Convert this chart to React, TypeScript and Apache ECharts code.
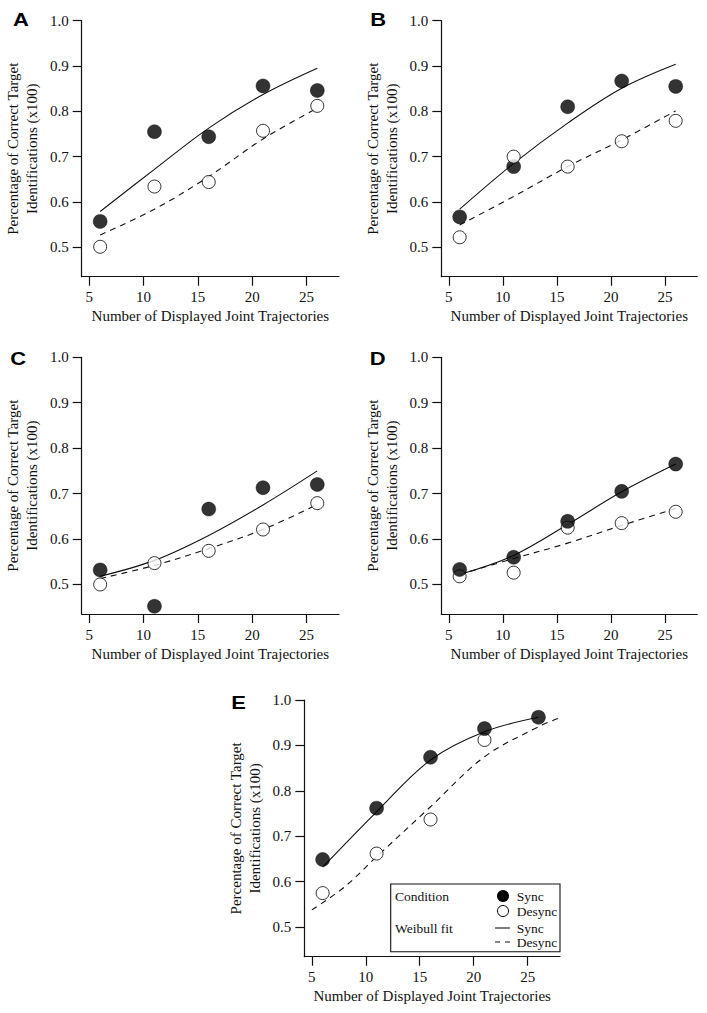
import React, { useEffect, useRef } from "react";
import * as echarts from "echarts";

// ---- data ----
const trajectories = [6, 11, 16, 21, 26];
const xTickValues = [5, 10, 15, 20, 25];
const yTickValues = [0.5, 0.6, 0.7, 0.8, 0.9, 1.0];

const syncA = [0.557, 0.755, 0.744, 0.856, 0.846];
const desyncA = [0.501, 0.634, 0.644, 0.757, 0.812];
const syncFitA = [0.579, 0.672, 0.763, 0.837, 0.895];
const desyncFitA = [0.527, 0.584, 0.656, 0.739, 0.807];

const syncB = [0.567, 0.678, 0.810, 0.867, 0.855];
const desyncB = [0.522, 0.700, 0.678, 0.734, 0.779];
const syncFitB = [0.584, 0.685, 0.774, 0.851, 0.904];
const desyncFitB = [0.549, 0.612, 0.678, 0.737, 0.801];

const syncC = [0.532, 0.452, 0.666, 0.713, 0.720];
const desyncC = [0.500, 0.547, 0.574, 0.621, 0.679];
const syncFitC = [0.518, 0.553, 0.608, 0.675, 0.750];
const desyncFitC = [0.513, 0.542, 0.579, 0.621, 0.676];

const syncD = [0.533, 0.560, 0.639, 0.705, 0.765];
const desyncD = [0.518, 0.526, 0.625, 0.635, 0.660];
const syncFitD = [0.522, 0.564, 0.632, 0.704, 0.765];
const desyncFitD = [0.522, 0.557, 0.591, 0.630, 0.667];

const syncE = [0.649, 0.762, 0.874, 0.937, 0.962];
const desyncE = [0.575, 0.662, 0.737, 0.912, null];
const syncFitE = [0.632, 0.754, 0.868, 0.930, 0.962];
const desyncFitXE = [5, 8, 11, 16, 21, 26, 28];
const desyncFitE = [0.538, 0.588, 0.655, 0.765, 0.875, 0.941, 0.961];

const panelLetters = ["A", "B", "C", "D", "E"];
const xTitle = "Number of Displayed Joint Trajectories";
const yTitle = "Percentage of Correct Target\nIdentifications (x100)";

const SERIF = "'Liberation Serif', 'Times New Roman', serif";
const SANS = "'Liberation Sans', Arial, Helvetica, sans-serif";
const INK = "#111";

type PanelDef = {
  sync: (number | null)[];
  desync: (number | null)[];
  syncFit: number[];
  desyncFit: number[];
  desyncFitX: number[];
  openOnTop: boolean;
};

const panelsData: PanelDef[] = [
  { sync: syncA, desync: desyncA, syncFit: syncFitA, desyncFit: desyncFitA, desyncFitX: trajectories, openOnTop: true },
  { sync: syncB, desync: desyncB, syncFit: syncFitB, desyncFit: desyncFitB, desyncFitX: trajectories, openOnTop: true },
  { sync: syncC, desync: desyncC, syncFit: syncFitC, desyncFit: desyncFitC, desyncFitX: trajectories, openOnTop: false },
  { sync: syncD, desync: desyncD, syncFit: syncFitD, desyncFit: desyncFitD, desyncFitX: trajectories, openOnTop: false },
  { sync: syncE, desync: desyncE, syncFit: syncFitE, desyncFit: desyncFitE, desyncFitX: desyncFitXE, openOnTop: false },
];

// layout (pixels)
const grids = [
  { left: 81.7, top: 20.7, width: 257.3, height: 256 },
  { left: 441.3, top: 20.7, width: 256, height: 256 },
  { left: 81.7, top: 357.3, width: 257.3, height: 256.7 },
  { left: 441.3, top: 357.3, width: 256, height: 256.7 },
  { left: 304.3, top: 700, width: 255.7, height: 256.7 },
];
const letterPos = [
  [21, 19.8],
  [378.2, 19.8],
  [18.2, 358.3],
  [377.7, 358.3],
  [238.5, 703],
];

function pairs(xs: number[], ys: (number | null)[]) {
  return xs.map((x, i) => [x, ys[i]]).filter((p) => p[1] !== null);
}

function buildOption() {
  const xAxis: any[] = [];
  const yAxis: any[] = [];
  const series: any[] = [];
  panelsData.forEach((p, i) => {
    xAxis.push({
      gridIndex: i,
      type: "value",
      min: 4.3,
      max: 28,
      axisLine: { show: true, onZero: false, lineStyle: { color: INK, width: 1.2 } },
      axisTick: { show: true, length: 9, customValues: xTickValues, lineStyle: { color: INK, width: 1.2 } },
      axisLabel: { customValues: xTickValues, fontFamily: SERIF, fontSize: 15, color: INK, margin: 13 },
      splitLine: { show: false },
      name: xTitle,
      nameLocation: "middle",
      nameGap: 32,
      nameTextStyle: { fontFamily: SERIF, fontSize: 15, color: INK, lineHeight: 15 },
    });
    yAxis.push({
      gridIndex: i,
      type: "value",
      min: 0.435,
      max: 1.0,
      axisLine: { show: true, onZero: false, lineStyle: { color: INK, width: 1.2 } },
      axisTick: { show: true, length: 9, customValues: yTickValues, lineStyle: { color: INK, width: 1.2 } },
      axisLabel: {
        customValues: yTickValues,
        fontFamily: SERIF,
        fontSize: 15,
        color: INK,
        margin: 13,
        formatter: (v: number) => v.toFixed(1),
      },
      splitLine: { show: false },
      name: yTitle,
      nameLocation: "middle",
      nameGap: 40,
      nameRotate: 90,
      nameTextStyle: { fontFamily: SERIF, fontSize: 15, color: INK, lineHeight: 19, align: "center" },
    });
    series.push({
      type: "line",
      xAxisIndex: i,
      yAxisIndex: i,
      data: pairs(trajectories, p.syncFit),
      smooth: 0.35,
      symbol: "none",
      lineStyle: { color: INK, width: 1.1, type: "solid" },
      z: 1,
    });
    series.push({
      type: "line",
      xAxisIndex: i,
      yAxisIndex: i,
      data: pairs(p.desyncFitX, p.desyncFit),
      smooth: 0.35,
      symbol: "none",
      lineStyle: { color: INK, width: 1.1, type: [6, 5] },
      z: 1,
    });
    series.push({
      type: "scatter",
      xAxisIndex: i,
      yAxisIndex: i,
      data: pairs(trajectories, p.sync),
      symbol: "circle",
      symbolSize: 14,
      itemStyle: { color: "#000", borderColor: "#000", borderWidth: 0.5 },
      z: p.openOnTop ? 3 : 5,
    });
    series.push({
      type: "scatter",
      xAxisIndex: i,
      yAxisIndex: i,
      data: pairs(trajectories, p.desync),
      symbol: "circle",
      symbolSize: 13,
      itemStyle: { color: "#fff", borderColor: "#000", borderWidth: 1 },
      z: p.openOnTop ? 5 : 3,
    });
  });

  const graphic: any[] = panelLetters.map((t, i) => ({
    type: "text",
    x: letterPos[i][0],
    y: letterPos[i][1],
    scaleX: 1.22,
    style: {
      text: t,
      font: `bold 18px ${SANS}`,
      fill: "#000",
      align: "center",
      verticalAlign: "middle",
    },
    silent: true,
  }));

  // legend box in panel E
  const legendText = (text: string, x: number, y: number) => ({
    type: "text",
    x,
    y,
    style: { text, font: `13.5px ${SERIF}`, fill: INK, verticalAlign: "middle", align: "left" },
    silent: true,
    z: 20,
  });
  graphic.push({
    type: "group",
    z: 20,
    children: [
      {
        type: "rect",
        shape: { x: 390.7, y: 884, width: 169.3, height: 67.7 },
        style: { fill: "#fff", stroke: INK, lineWidth: 1.1 },
        z: 19,
      },
      legendText("Condition", 395, 896),
      legendText("Weibull fit", 395, 928),
      { type: "circle", shape: { cx: 503, cy: 896, r: 6 }, style: { fill: "#000" }, z: 20 },
      legendText("Sync", 516.7, 896),
      { type: "circle", shape: { cx: 503, cy: 911, r: 5.5 }, style: { fill: "#fff", stroke: "#000", lineWidth: 1 }, z: 20 },
      legendText("Desync", 516.7, 911),
      { type: "line", shape: { x1: 495, y1: 928, x2: 510, y2: 928 }, style: { stroke: INK, lineWidth: 1.1 }, z: 20 },
      legendText("Sync", 516.7, 928),
      {
        type: "line",
        shape: { x1: 495, y1: 942, x2: 510, y2: 942 },
        style: { stroke: INK, lineWidth: 1.1, lineDash: [5, 5] },
        z: 20,
      },
      legendText("Desync", 516.7, 942),
    ],
  });

  return {
    animation: false,
    backgroundColor: "#fff",
    grid: grids.map((g) => ({ ...g, containLabel: false })),
    xAxis,
    yAxis,
    series,
    graphic,
  };
}

export default function App() {
  const ref = useRef<HTMLDivElement | null>(null);
  useEffect(() => {
    if (!ref.current) return;
    const chart = echarts.init(ref.current, undefined, { renderer: "svg" });
    chart.setOption(buildOption() as any);
    return () => chart.dispose();
  }, []);
  return (
    <div
      ref={ref}
      style={{ position: "absolute", left: 0, top: 0, width: 707, height: 1013, background: "#fff" }}
    />
  );
}
